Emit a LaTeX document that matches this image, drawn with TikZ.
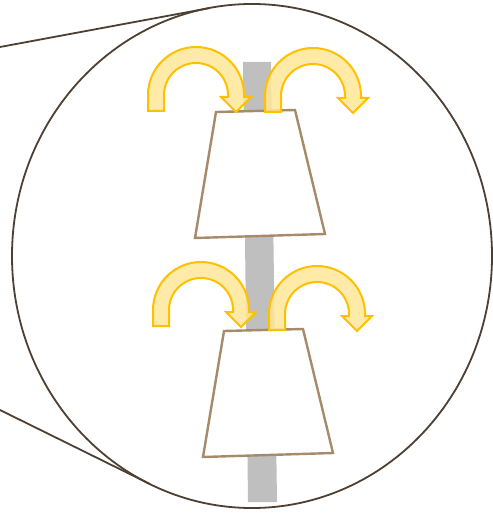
\documentclass[tikz,border=0pt]{standalone}
\usepackage{xcolor}
\definecolor{lensline}{RGB}{77,64,50}
\definecolor{cupline}{RGB}{166,139,107}
\definecolor{axisgray}{RGB}{191,191,191}
\definecolor{swirlfill}{RGB}{255,230,153}
\definecolor{swirlline}{RGB}{255,192,0}
\usepackage{tikz}
\usetikzlibrary{arrows.meta,positioning,calc}

\begin{document}
\begin{tikzpicture}[
  x=0.5pt,y=0.5pt,
  lens/.style={draw=lensline,line width=0.9pt},
  cupbox/.style={draw=cupline,fill=white,line width=1.2pt,line join=miter},
  swirl/.style={draw=swirlline,fill=swirlfill,fill opacity=0.85,line width=1pt,line join=miter},
]
  \useasboundingbox (0,0) rectangle (492,-513);

  % Zoom lens
  \draw[lens] (252,-256) ellipse[x radius=240,y radius=252];
  \draw[lens] (0,-47) -- (210,-8);
  \draw[lens] (0,-410) -- (150,-484);

  % Shaft
  \fill[axisgray] (243,-62) -- (271,-62) -- (277,-502) -- (248,-502) -- cycle;

  % Cups
  \draw[cupbox] (216,-112) -- (295,-110) -- (325,-234) -- (195,-238) -- cycle;
  \draw[cupbox] (224,-331) -- (303,-329) -- (333,-453) -- (203,-457) -- cycle;

  % Turning arrows
  \foreach \cx/\cy in {196/95, 313/96, 201/310, 317/314}{
    \begin{scope}[shift={(\cx,-\cy)}]
      \draw[swirl] (-48,-16) -- (-48,0) arc[start angle=180,end angle=0,radius=48]
        -- (48,-2) -- (55,-2) -- (40,-17) -- (25,-2) -- (32,-2) -- (32,0)
        arc[start angle=0,end angle=180,radius=32] -- (-32,-16) -- cycle;
    \end{scope}
  }
\end{tikzpicture}
\end{document}
